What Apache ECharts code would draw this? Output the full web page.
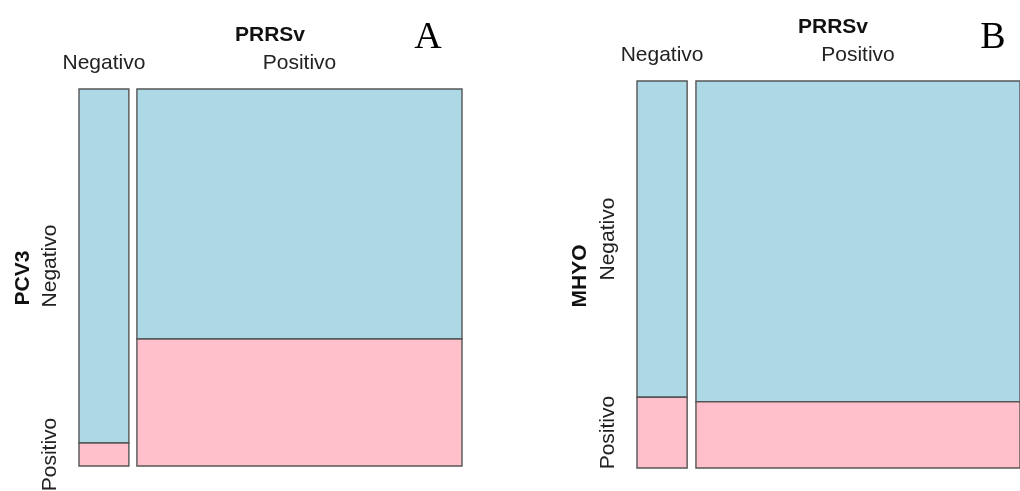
<!DOCTYPE html>
<html>
<head>
<meta charset="utf-8">
<script src="https://cdn.jsdelivr.net/npm/echarts@6/dist/echarts.min.js"></script>
<style>
html,body{margin:0;padding:0;background:#fff;}
#chart{width:1020px;height:491px;}
</style>
</head>
<body>
<div id="chart"></div>
<script>
// Categories
const prrsCategories = ['Negativo', 'Positivo'];   // columns (x variable)
const rowCategories = ['Negativo', 'Positivo'];    // rows (y variable)
const panelLetters = ['A', 'B'];
const rowVariables = ['PCV3', 'MHYO'];
const colVariable = 'PRRSv';

// Share of animals in each PRRSv column (width of columns)
const panelAColShare = [0.133, 0.867];
const panelBColShare = [0.134, 0.866];
// Share positive (bottom cell height) within each PRRSv column
const panelAPosShare = [0.061, 0.337];
const panelBPosShare = [0.183, 0.171];

const FONT = '"Liberation Sans", Arial, Helvetica, sans-serif';
const BLUE = '#ADD8E6';
const PINK = '#FFC0CB';
const STROKE = '#555555';

function makeRender(colShare, posShare, gap) {
  return function (params, api) {
    const col = api.value(0);
    const row = api.value(1); // 0 = Negativo (top), 1 = Positivo (bottom)
    const avail = 1 - gap;
    let x0 = 0;
    for (let i = 0; i < col; i++) x0 += colShare[i] * avail + gap;
    const x1 = x0 + colShare[col] * avail;
    const p = posShare[col];
    const y0 = row === 1 ? 0 : p;
    const y1 = row === 1 ? p : 1;
    const tl = api.coord([x0, y1]);
    const br = api.coord([x1, y0]);
    const children = [{
      type: 'rect',
      shape: { x: tl[0], y: tl[1], width: br[0] - tl[0], height: br[1] - tl[1] },
      style: { fill: row === 1 ? PINK : BLUE, stroke: STROKE, lineWidth: 1.4 }
    }];
    if (row === 0) {
      children.push({
        type: 'text',
        x: (tl[0] + br[0]) / 2,
        y: tl[1] - 26,
        style: { text: prrsCategories[col], align: 'center', verticalAlign: 'middle',
                 fill: '#222', font: '21px ' + FONT }
      });
    }
    if (col === 0) {
      children.push({
        type: 'text',
        x: tl[0] - 29,
        y: (tl[1] + br[1]) / 2,
        rotation: Math.PI / 2,
        style: { text: rowCategories[row], align: 'center', verticalAlign: 'middle',
                 fill: '#222', font: '21px ' + FONT }
      });
    }
    return { type: 'group', children: children };
  };
}

const cells = [[0, 0], [0, 1], [1, 0], [1, 1]];

const chart = echarts.init(document.getElementById('chart'));
chart.setOption({
  animation: false,
  backgroundColor: '#fff',
  grid: [
    { left: 79, top: 89, width: 383, height: 377 },
    { left: 637, top: 81, width: 390, height: 387 }
  ],
  xAxis: [
    { type: 'value', gridIndex: 0, min: 0, max: 1, show: false },
    { type: 'value', gridIndex: 1, min: 0, max: 1, show: false }
  ],
  yAxis: [
    { type: 'value', gridIndex: 0, min: 0, max: 1, show: false },
    { type: 'value', gridIndex: 1, min: 0, max: 1, show: false }
  ],
  series: [
    { type: 'custom', xAxisIndex: 0, yAxisIndex: 0, clip: false,
      renderItem: makeRender(panelAColShare, panelAPosShare, 0.021), data: cells },
    { type: 'custom', xAxisIndex: 1, yAxisIndex: 1, clip: false,
      renderItem: makeRender(panelBColShare, panelBPosShare, 0.023), data: cells }
  ],
  graphic: [
    { type: 'text', x: 270, y: 35, style: { text: colVariable, align: 'center', verticalAlign: 'middle', fill: '#111', font: 'bold 21px ' + FONT } },
    { type: 'text', x: 833, y: 27, style: { text: colVariable, align: 'center', verticalAlign: 'middle', fill: '#111', font: 'bold 21px ' + FONT } },
    { type: 'text', x: 23, y: 278, rotation: Math.PI / 2, style: { text: rowVariables[0], align: 'center', verticalAlign: 'middle', fill: '#111', font: 'bold 21px ' + FONT } },
    { type: 'text', x: 580, y: 276, rotation: Math.PI / 2, style: { text: rowVariables[1], align: 'center', verticalAlign: 'middle', fill: '#111', font: 'bold 21px ' + FONT } },
    { type: 'text', x: 428, y: 38, style: { text: panelLetters[0], align: 'center', verticalAlign: 'middle', fill: '#000', font: '38px "Liberation Serif", "Times New Roman", serif' } },
    { type: 'text', x: 993, y: 38, style: { text: panelLetters[1], align: 'center', verticalAlign: 'middle', fill: '#000', font: '38px "Liberation Serif", "Times New Roman", serif' } }
  ]
});
</script>
</body>
</html>
